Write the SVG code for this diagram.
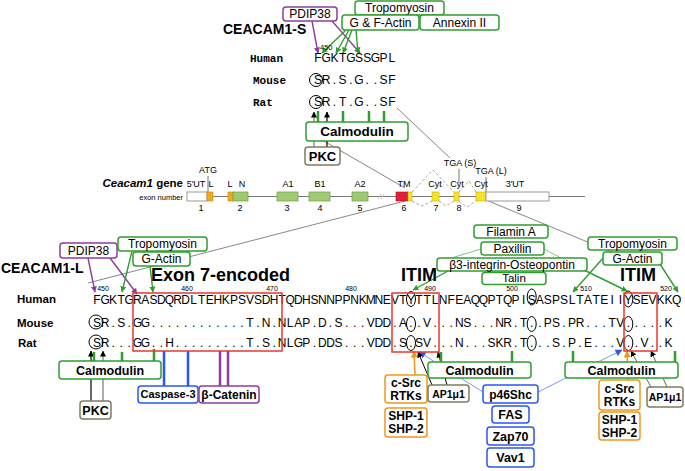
<svg xmlns="http://www.w3.org/2000/svg" width="685" height="471" viewBox="0 0 685 471">
<style>
text{font-family:"Liberation Sans",Arial,sans-serif;fill:#000}
.gb{fill:#fff;stroke:#2f9e2f;stroke-width:1.5}
.pb{fill:#fff;stroke:#8e3c9e;stroke-width:1.5}
.bb{fill:#fff;stroke:#2b55f5;stroke-width:1.5}
.ob{fill:#fff;stroke:#f0961e;stroke-width:1.5}
.kb{fill:#fff;stroke:#817b62;stroke-width:1.5}
.rb{fill:none;stroke:#e8392c;stroke-width:1.5}
.c{text-anchor:middle}
.n12{font-size:12px}
.b{font-weight:bold}
.mono{font-family:"Liberation Mono","Courier New",monospace;font-weight:bold;font-size:11px}
.lab{font-weight:bold;font-size:11.5px}
.seq{font-size:12px;text-anchor:middle}
.num{font-size:7px;text-anchor:middle}
.ex{font-size:9px;text-anchor:middle}
.gl{stroke:#888;stroke-width:1;fill:none}
.ga{stroke:#2f9e2f;stroke-width:1.4;fill:none}
.pa{stroke:#8e3c9e;stroke-width:1.4;fill:none}
.gbar{stroke:#2f9e2f;stroke-width:2.5}
.bbar{stroke:#2b55f5;stroke-width:2.5}
.pbar{stroke:#8e3c9e;stroke-width:2.5}
.ring{fill:none;stroke:#000;stroke-width:1}
</style>
<defs>
<marker id="ag" markerWidth="6" markerHeight="6" refX="5.5" refY="3" orient="auto" markerUnits="userSpaceOnUse"><path d="M0,0 L6,3 L0,6 z" fill="#2f9e2f"/></marker>
<marker id="ap" markerWidth="6" markerHeight="6" refX="5.5" refY="3" orient="auto" markerUnits="userSpaceOnUse"><path d="M0,0 L6,3 L0,6 z" fill="#8e3c9e"/></marker>
<marker id="ak" markerWidth="6" markerHeight="6" refX="5.5" refY="3" orient="auto" markerUnits="userSpaceOnUse"><path d="M0,0 L6,3 L0,6 z" fill="#000"/></marker>
<marker id="ab" markerWidth="7" markerHeight="7" refX="6.5" refY="3.5" orient="auto" markerUnits="userSpaceOnUse"><path d="M0,0 L7,3.5 L0,7 z" fill="#2b55f5"/></marker>
<marker id="ao" markerWidth="7" markerHeight="7" refX="6.5" refY="3.5" orient="auto" markerUnits="userSpaceOnUse"><path d="M0,0 L7,3.5 L0,7 z" fill="#f0961e"/></marker>
</defs>

<!-- connectors -->
<g id="connectors">
  <line class="gl" x1="397" y1="108" x2="450" y2="158"/>
  <line class="gl" x1="322" y1="140" x2="405" y2="188"/>
  <line class="gl" x1="405" y1="201" x2="88" y2="283"/>
  <line class="gl" x1="486" y1="200" x2="636" y2="262"/>
  <line class="pa" x1="312" y1="21" x2="318" y2="53" marker-end="url(#ap)"/>
  <line class="pa" x1="332" y1="21" x2="360" y2="53" marker-end="url(#ap)"/>
  <line class="ga" x1="346" y1="30" x2="322" y2="53" marker-end="url(#ag)"/>
  <line class="ga" x1="349" y1="30" x2="336" y2="53" marker-end="url(#ag)"/>
  <line class="ga" x1="352" y1="30" x2="343" y2="53" marker-end="url(#ag)"/>
  <line class="ga" x1="356" y1="30" x2="358" y2="53" marker-end="url(#ag)"/>
  <line class="gbar" x1="318" y1="111" x2="318" y2="122"/>
  <line class="gbar" x1="343" y1="111" x2="343" y2="122"/>
  <line class="gbar" x1="369" y1="111" x2="369" y2="122"/>
  <line class="gbar" x1="384" y1="111" x2="384" y2="122"/>
  <line stroke="#777" stroke-width="1.2" x1="314" y1="147" x2="314" y2="112" marker-end="url(#ak)"/>
  <line stroke="#000" stroke-width="1.2" x1="327" y1="147" x2="327" y2="112" marker-end="url(#ak)"/>
  <line class="pa" x1="88" y1="258" x2="95" y2="292" marker-end="url(#ap)"/>
  <line class="pa" x1="110" y1="258" x2="137" y2="294" marker-end="url(#ap)"/>
  <line class="ga" x1="132" y1="251" x2="122" y2="292" marker-end="url(#ag)"/>
  <line class="ga" x1="150" y1="266" x2="153" y2="292" marker-end="url(#ag)"/>
  <line class="ga" x1="450" y1="270" x2="413" y2="290" marker-end="url(#ag)"/>
  <line class="ga" x1="584" y1="270" x2="627" y2="291" marker-end="url(#ag)"/>
  <line class="ga" x1="604" y1="257" x2="573" y2="292" marker-end="url(#ag)"/>
  <line class="ga" x1="660" y1="264" x2="678" y2="292" marker-end="url(#ag)"/>
  <line stroke="#5cb85c" stroke-width="0.8" x1="481" y1="249" x2="448" y2="259"/>
  <line stroke="#5cb85c" stroke-width="0.8" x1="544" y1="249" x2="561" y2="258"/>
  <line stroke="#000" stroke-width="1.2" x1="91" y1="401" x2="91" y2="351" marker-end="url(#ak)"/>
  <line stroke="#777" stroke-width="1.2" x1="103" y1="401" x2="103" y2="351" marker-end="url(#ak)"/>
  <line class="gbar" x1="94" y1="352" x2="94" y2="361"/>
  <line class="gbar" x1="122" y1="352" x2="122" y2="361"/>
  <line class="gbar" x1="154" y1="349" x2="154" y2="361"/>
  <line class="bbar" x1="164" y1="351" x2="164" y2="386"/>
  <line class="bbar" x1="188" y1="351" x2="188" y2="386"/>
  <line class="pbar" x1="220" y1="351" x2="220" y2="386"/>
  <line class="pbar" x1="228" y1="351" x2="228" y2="386"/>
  <line stroke="#6c8cff" stroke-width="0.9" x1="483" y1="392" x2="419" y2="352" marker-end="url(#ab)"/>
  <line stroke="#6c8cff" stroke-width="0.9" x1="538" y1="392" x2="622" y2="350" marker-end="url(#ab)"/>
  <line stroke="#f0961e" stroke-width="1.5" x1="415" y1="375" x2="414" y2="351" marker-end="url(#ao)"/>
  <line stroke="#f0961e" stroke-width="1.5" x1="628" y1="380" x2="627" y2="351" marker-end="url(#ao)"/>
  <line stroke="#000" stroke-width="1" x1="432" y1="385" x2="418" y2="352" marker-end="url(#ak)"/>
  <line stroke="#000" stroke-width="1" x1="447" y1="385" x2="438" y2="352" marker-end="url(#ak)"/>
  <line stroke="#666" stroke-width="1" x1="651" y1="387" x2="631" y2="351" marker-end="url(#ak)"/>
  <line stroke="#666" stroke-width="1" x1="667" y1="387" x2="651" y2="351" marker-end="url(#ak)"/>
  <line class="gbar" x1="441" y1="352" x2="441" y2="362"/>
  <line class="gbar" x1="512" y1="351" x2="512" y2="362"/>
  <line class="gbar" x1="573" y1="351" x2="573" y2="362"/>
  <line class="gbar" x1="675" y1="351" x2="675" y2="362"/>
</g>

<!-- gene structure -->
<g id="gene">
  <text x="183" y="187" font-size="11.5" font-weight="bold" text-anchor="end"><tspan font-style="italic">Ceacam1</tspan> gene</text>
  <text x="183" y="200" font-size="7.5" text-anchor="end">exon number</text>
  <line x1="187" y1="196.5" x2="585" y2="196.5" stroke="#777" stroke-width="1.2"/>
  <rect x="187" y="192" width="20" height="9" fill="#fff" stroke="#999"/>
  <rect x="207" y="192" width="6" height="9" fill="#f2a81d" stroke="#c88510" stroke-width="0.6"/>
  <rect x="228" y="192" width="5" height="9" fill="#f2a81d" stroke="#c88510" stroke-width="0.6"/>
  <rect x="233" y="192" width="15" height="9" fill="#9fca72" stroke="#78a84e" stroke-width="0.8"/>
  <rect x="277" y="192" width="21" height="9" fill="#9fca72" stroke="#78a84e" stroke-width="0.8"/>
  <rect x="309" y="192" width="21" height="9" fill="#9fca72" stroke="#78a84e" stroke-width="0.8"/>
  <rect x="352" y="192" width="16" height="9" fill="#9fca72" stroke="#78a84e" stroke-width="0.8"/>
  <line x1="378" y1="199" x2="381" y2="194" stroke="#bbb" stroke-width="0.8"/>
  <line x1="381" y1="199" x2="384" y2="194" stroke="#bbb" stroke-width="0.8"/>
  <rect x="396" y="192" width="12" height="9" fill="#e0203a" stroke="#b01020" stroke-width="0.6"/>
  <rect x="408" y="192" width="4" height="9" fill="#f5e32a" stroke="#c8b010" stroke-width="0.6"/>
  <rect x="432" y="192" width="7" height="9" fill="#f5e32a" stroke="#c8b010" stroke-width="0.6"/>
  <rect x="454" y="192" width="5" height="9" fill="#f5e32a" stroke="#c8b010" stroke-width="0.6"/>
  <rect x="476" y="192" width="10" height="9" fill="#f5e32a" stroke="#c8b010" stroke-width="0.6"/>
  <rect x="486" y="192" width="63" height="9" fill="#fff" stroke="#999"/>
  <g fill="none" stroke="#aaa" stroke-width="1" stroke-dasharray="3,2">
    <polyline points="412,192 433,170 454,192"/>
    <polyline points="459,192 469,181 476,192"/>
    <polyline points="412,201 422,206 432,201"/>
    <polyline points="439,201 446,206 454,201"/>
    <polyline points="459,201 467,207 476,201"/>
  </g>
  <line x1="208" y1="176" x2="208" y2="192" stroke="#777"/>
  <line x1="459" y1="169" x2="459" y2="183" stroke="#777"/>
  <line x1="486" y1="177" x2="486" y2="192" stroke="#777"/>
  <text class="ex" x="208" y="173">ATG</text>
  <text class="ex" x="460" y="166">TGA (S)</text>
  <text class="ex" x="491" y="174">TGA (L)</text>
  <text class="ex" x="196" y="187">5'UT</text>
  <text class="ex" x="211" y="187">L</text>
  <text class="ex" x="230" y="187">L</text>
  <text class="ex" x="242" y="187">N</text>
  <text class="ex" x="288" y="187">A1</text>
  <text class="ex" x="320" y="187">B1</text>
  <text class="ex" x="360" y="187">A2</text>
  <text class="ex" x="404" y="187">TM</text>
  <text class="ex" x="435" y="187">Cyt</text>
  <text class="ex" x="457" y="187">Cyt</text>
  <text class="ex" x="481" y="187">Cyt</text>
  <text class="ex" x="515" y="187">3'UT</text>
  <text class="ex" x="201" y="211">1</text>
  <text class="ex" x="240" y="211">2</text>
  <text class="ex" x="287" y="211">3</text>
  <text class="ex" x="320" y="211">4</text>
  <text class="ex" x="360" y="211">5</text>
  <text class="ex" x="404" y="211">6</text>
  <text class="ex" x="436" y="211">7</text>
  <text class="ex" x="459" y="211">8</text>
  <text class="ex" x="519" y="211">9</text>
</g>

<!-- CEACAM1-S alignment -->
<g id="align-s">
  <text x="223" y="34" font-size="14" font-weight="bold">CEACAM1-S</text>
  <text x="320" y="50" font-size="7.5">450</text>
  <text class="mono" x="250" y="62">Human</text>
  <text class="mono" x="253" y="84">Mouse</text>
  <text class="mono" x="253" y="106">Rat</text>
  <text class="seq" x="318 326.2 334.4 342.6 350.8 359 367.2 375.4 383.6 391.8" y="62">FGKTGSSGPL</text>
  <text class="seq" x="318 326.2 334.4 342.6 350.8 359 367.2 375.4 383.6 391.8" y="84">SR.S.G..SF</text>
  <text class="seq" x="318 326.2 334.4 342.6 350.8 359 367.2 375.4 383.6 391.8" y="106">SR.T.G..SF</text>
  <circle class="ring" cx="316" cy="80" r="6.5"/>
  <circle class="ring" cx="316" cy="102" r="6.5"/>
</g>

<!-- CEACAM1-L alignment -->
<g id="align-l">
  <text x="1" y="273" font-size="14" font-weight="bold">CEACAM1-L</text>
  <text x="151" y="280.5" font-size="18" font-weight="bold">Exon 7-encoded</text>
  <text x="401" y="280.5" font-size="18" font-weight="bold">ITIM</text>
  <text x="620" y="280.5" font-size="18" font-weight="bold">ITIM</text>
  <text class="num" x="103" y="290.5">450</text>
  <text class="num" x="187" y="290.5">460</text>
  <text class="num" x="272" y="290.5">470</text>
  <text class="num" x="351" y="290.5">480</text>
  <text class="num" x="430" y="290.5">490</text>
  <text class="num" x="512" y="290.5">500</text>
  <text class="num" x="586" y="290.5">510</text>
  <text class="num" x="666" y="290.5">520</text>
  <text class="lab" x="17" y="303">Human</text>
  <text class="lab" x="17" y="327">Mouse</text>
  <text class="lab" x="18" y="347">Rat</text>
  <text class="seq" y="303.5" x="97 105.1 113.1 121.2 129.2 137.3 145.3 153.4 161.4 169.5 177.5 185.6 193.6 201.7 209.7 217.8 225.8 233.9 241.9 250 258 266.1 274.1 282.2 290.2 298.3 306.3 314.4 322.4 330.5 338.5 346.6 354.6 362.7 370.7 378.8 386.8 394.9 402.9 411 419 427.1 435.1 443.2 451.2 459.3 467.3 475.4 483.4 491.5 499.5 507.6 515.6 523.7 531.7 539.8 547.8 555.9 563.9 572 580 588.1 596.1 604.2 612.2 620.3 628.3 636.4 644.4 652.5 660.5 668.6 676.6">FGKTGRASDQRDLTEHKPSVSDHTQDHSNNPPNKMNEVTYTTLNFEAQQPTQPISASPSLTATEIIYSEVKKQ</text>
  <text class="seq" y="327" x="97 105.1 113.1 121.2 129.2 137.3 145.3 153.4 161.4 169.5 177.5 185.6 193.6 201.7 209.7 217.8 225.8 233.9 241.9 250 258 266.1 274.1 282.2 290.2 298.3 306.3 314.4 322.4 330.5 338.5 346.6 354.6 362.7 370.7 378.8 386.8 394.9 402.9 411 419 427.1 435.1 443.2 451.2 459.3 467.3 475.4 483.4 491.5 499.5 507.6 515.6 523.7 531.7 539.8 547.8 555.9 563.9 572 580 588.1 596.1 604.2 612.2 620.3 628.3 636.4 644.4 652.5 660.5 668.6">SR.S.GG............T.N.NLAP.D.S...VDD.A..V...NS...NR.T..PS.PR...TV.....K</text>
  <text class="seq" y="347" x="97 105.1 113.1 121.2 129.2 137.3 145.3 153.4 161.4 169.5 177.5 185.6 193.6 201.7 209.7 217.8 225.8 233.9 241.9 250 258 266.1 274.1 282.2 290.2 298.3 306.3 314.4 322.4 330.5 338.5 346.6 354.6 362.7 370.7 378.8 386.8 394.9 402.9 411 419 427.1 435.1 443.2 451.2 459.3 467.3 475.4 483.4 491.5 499.5 507.6 515.6 523.7 531.7 539.8 547.8 555.9 563.9 572 580 588.1 596.1 604.2 612.2 620.3 628.3 636.4 644.4 652.5 660.5 668.6">SR...GG..H.........T.S.NLGP.DDS...VDD.S.SV...N...SKR.T...S.P.E...V..V..K</text>
  <circle class="ring" cx="96" cy="322" r="7"/>
  <circle class="ring" cx="96" cy="342" r="7"/>
  <ellipse class="ring" cx="411" cy="299" rx="4.5" ry="7.5"/>
  <ellipse class="ring" cx="531.7" cy="297" rx="4.5" ry="8"/>
  <ellipse class="ring" cx="628.3" cy="299" rx="4.5" ry="8"/>
  <ellipse class="ring" cx="411" cy="324" rx="4.5" ry="7.5"/>
  <ellipse class="ring" cx="531.7" cy="324" rx="4.5" ry="7.5"/>
  <ellipse class="ring" cx="628.3" cy="324" rx="4.5" ry="7.5"/>
  <ellipse class="ring" cx="411" cy="343" rx="4.5" ry="7.5"/>
  <ellipse class="ring" cx="531.7" cy="343" rx="4.5" ry="7.5"/>
  <ellipse class="ring" cx="628.3" cy="343" rx="4.5" ry="7.5"/>
  <rect class="rb" x="133" y="293" width="149" height="58"/>
  <rect class="rb" x="392" y="293" width="47" height="59"/>
  <rect class="rb" x="624" y="293" width="33" height="58"/>
</g>

<!-- nodes: CEACAM1-S partners -->
<g id="s-pdip38"><rect class="pb" x="283" y="7" width="54" height="14" rx="3"/><text class="n12 c" x="310" y="18.3">PDIP38</text></g>
<g id="s-tropomyosin"><rect class="gb" x="355" y="1" width="89" height="14" rx="3"/><text class="n12 c" x="399.5" y="12.3">Tropomyosin</text></g>
<g id="s-gfactin"><rect class="gb" x="342" y="15" width="77" height="15" rx="3"/><text class="n12 c" x="380.5" y="26.8">G &amp; F-Actin</text></g>
<g id="s-annexin"><rect class="gb" x="420" y="15" width="79" height="15" rx="3"/><text class="n12 c" x="459.5" y="26.8">Annexin II</text></g>
<g id="s-calmodulin"><rect class="gb" x="306" y="122" width="102" height="19" rx="3"/><text class="c b" font-size="13.5" x="357" y="136.3">Calmodulin</text></g>
<g id="s-pkc"><rect class="kb" x="305" y="147" width="35" height="18" rx="3"/><text class="c b" font-size="13" x="322.5" y="160.6">PKC</text></g>

<!-- nodes: CEACAM1-L partners -->
<g id="l-pdip38"><rect class="pb" x="60" y="243" width="57" height="15" rx="3"/><text class="n12 c" x="88.5" y="254.8">PDIP38</text></g>
<g id="l-tropomyosin"><rect class="gb" x="118" y="237" width="89" height="14" rx="3"/><text class="n12 c" x="162.5" y="248.3">Tropomyosin</text></g>
<g id="l-gactin"><rect class="gb" x="133" y="252" width="57" height="14" rx="3"/><text class="n12 c" x="161.5" y="263.3">G-Actin</text></g>
<g id="filamin"><rect class="gb" x="474" y="225" width="74" height="13" rx="3"/><text class="n12 c" x="511" y="235.8">Filamin A</text></g>
<g id="paxillin"><rect class="gb" x="481" y="242" width="63" height="13" rx="3"/><text class="n12 c" x="512.5" y="252.8">Paxillin</text></g>
<g id="b3integrin"><rect class="gb" x="437" y="258" width="150" height="13" rx="3"/><text class="n12 c" x="512" y="268.8">β3-integrin-Osteopontin</text></g>
<g id="talin"><rect class="gb" x="482" y="272.5" width="64" height="12" rx="3"/><text class="c" font-size="11.5" x="514" y="282.3">Talin</text></g>
<g id="r-tropomyosin"><rect class="gb" x="588" y="237" width="89" height="13" rx="3"/><text class="n12 c" x="632.5" y="247.8">Tropomyosin</text></g>
<g id="r-gactin"><rect class="gb" x="603" y="252" width="59" height="13" rx="3"/><text class="n12 c" x="632.5" y="262.8">G-Actin</text></g>

<g id="l-calmodulin"><rect class="gb" x="59" y="361" width="102" height="18" rx="3"/><text class="c b" font-size="12.5" x="110" y="374.5">Calmodulin</text></g>
<g id="l-pkc"><rect class="kb" x="80" y="401" width="31" height="18" rx="3"/><text class="c b" font-size="12.5" x="95.5" y="414.5">PKC</text></g>
<g id="caspase3"><rect class="bb" x="138" y="386" width="60" height="17" rx="3"/><text class="c b" font-size="11" x="168" y="398.4">Caspase-3</text></g>
<g id="bcatenin"><rect class="pb" x="199" y="386" width="60" height="17" rx="3"/><text class="c b" font-size="12" x="229" y="398.6">β-Catenin</text></g>

<g id="m-calmodulin"><rect class="gb" x="428" y="362" width="103" height="16" rx="3"/><text class="c b" font-size="12.5" x="479.5" y="374.5">Calmodulin</text></g>
<g id="r-calmodulin"><rect class="gb" x="565" y="362" width="113" height="16" rx="3"/><text class="c b" font-size="12.5" x="621.5" y="374.5">Calmodulin</text></g>
<g id="l-csrc"><rect class="ob" x="385" y="375" width="42" height="28" rx="3"/><text class="c b" font-size="12" x="406" y="387">c-Src</text><text class="c b" font-size="12" x="406" y="400">RTKs</text></g>
<g id="l-shp"><rect class="ob" x="385" y="408" width="42" height="29" rx="3"/><text class="c b" font-size="12" x="406" y="420">SHP-1</text><text class="c b" font-size="12" x="406" y="433">SHP-2</text></g>
<g id="l-ap1"><rect class="kb" x="428" y="385" width="41" height="17" rx="3"/><text class="c b" font-size="10.5" x="448.5" y="397.5">AP1μ1</text></g>
<g id="p46shc"><rect class="bb" x="483" y="385" width="55" height="18" rx="3"/><text class="c b" font-size="12" x="510.5" y="398.5">p46Shc</text></g>
<g id="fas"><rect class="bb" x="492" y="406" width="37" height="17" rx="3"/><text class="c b" font-size="12.5" x="510.5" y="419">FAS</text></g>
<g id="zap70"><rect class="bb" x="487" y="427" width="47" height="18" rx="3"/><text class="c b" font-size="12.5" x="510.5" y="440.5">Zap70</text></g>
<g id="vav1"><rect class="bb" x="487" y="448" width="47" height="19" rx="3"/><text class="c b" font-size="12.5" x="510.5" y="462">Vav1</text></g>
<g id="r-csrc"><rect class="ob" x="599" y="380" width="41" height="30" rx="3"/><text class="c b" font-size="12" x="619.5" y="392.5">c-Src</text><text class="c b" font-size="12" x="619.5" y="405.5">RTKs</text></g>
<g id="r-shp"><rect class="ob" x="599" y="412" width="41" height="28" rx="3"/><text class="c b" font-size="12" x="619.5" y="424">SHP-1</text><text class="c b" font-size="12" x="619.5" y="437">SHP-2</text></g>
<g id="r-ap1"><rect class="kb" x="647" y="387" width="36" height="20" rx="3"/><text class="c b" font-size="10.5" x="665" y="401">AP1μ1</text></g>
</svg>
